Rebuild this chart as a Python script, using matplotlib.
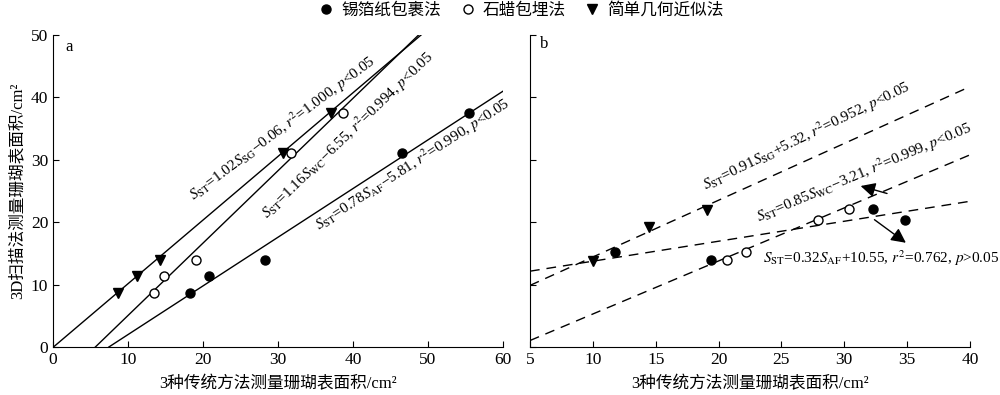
import numpy as np
import matplotlib
matplotlib.use('Agg')
import matplotlib.pyplot as plt
from matplotlib.lines import Line2D

plt.rcParams['font.family'] = ['Liberation Serif', 'Noto Sans CJK SC']
plt.rcParams['mathtext.fontset'] = 'stix'

# panel a data
af_x_a = [18.3, 20.8, 28.3, 46.5, 55.4]
af_y_a = [8.7, 11.3, 13.9, 31.1, 37.5]
wc_x_a = [13.4, 14.8, 19.1, 31.7, 38.7]
wc_y_a = [8.7, 11.3, 13.9, 31.1, 37.5]
sg_x_a = [8.6, 11.2, 14.2, 30.7, 37.1]
sg_y_a = [8.7, 11.3, 14.0, 31.1, 37.5]

# panel b data
af_x_b = [11.8, 19.4, 32.3, 34.8]
af_y_b = [15.2, 13.9, 22.1, 20.3]
wc_x_b = [20.7, 22.2, 27.9, 30.4]
wc_y_b = [13.9, 15.2, 20.3, 22.1]
sg_x_b = [10.0, 14.5, 19.1]
sg_y_b = [13.8, 19.2, 22.0]

# fits: (slope, intercept)
fit_a = {'SG': (1.02, -0.06), 'WC': (1.16, -6.55), 'AF': (0.78, -5.81)}
fit_b = {'SG': (0.91, 5.32), 'WC': (0.85, -3.21), 'AF': (0.32, 10.55)}

fig = plt.figure(figsize=(10, 3.95), dpi=100)
ax1 = fig.add_axes([0.053, 0.1215, 0.45, 0.79])
ax2 = fig.add_axes([0.53, 0.1215, 0.44, 0.79])

ms = 6.5


def style_axis(ax):
    for s in ['top', 'right']:
        ax.spines[s].set_visible(False)
    ax.tick_params(direction='in', labelsize=12.5, length=4)


def plot_points(ax, afx, afy, wcx, wcy, sgx, sgy):
    ax.plot(afx, afy, 'o', color='black', ms=ms, zorder=3)
    ax.plot(wcx, wcy, 'o', mfc='white', mec='black', ms=ms, mew=1, zorder=3)
    ax.plot(sgx, sgy, 'v', color='black', ms=ms, zorder=3)


# panel a
for k, (m, b) in fit_a.items():
    x0 = max(0, -b / m)
    x1 = min(60, (50 - b) / m)
    xs = np.array([x0, x1])
    ax1.plot(xs, m * xs + b, color='black', lw=1)
plot_points(ax1, af_x_a, af_y_a, wc_x_a, wc_y_a, sg_x_a, sg_y_a)
ax1.set_xlim(0, 60)
ax1.set_ylim(0, 50)
ax1.set_xticks(range(0, 61, 10))
ax1.set_yticks(range(0, 51, 10))
style_axis(ax1)
ax1.set_xlabel('3种传统方法测量珊瑚表面积/cm²', fontsize=12, labelpad=6)
ax1.set_ylabel('3D扫描法测量珊瑚表面积/cm²', fontsize=12, labelpad=4)
ax1.text(1.6, 48, 'a', fontsize=12, va='center')

fs = 11
ax1.text(30.6, 35.0, r'$S_{\rm ST}$=1.02$S_{\rm SG}$−0.06, $r^2$=1.000, $p$<0.05',
         rotation=37, ha='center', va='center', fontsize=fs, rotation_mode='anchor')
ax1.text(39.3, 34.0, r'$S_{\rm ST}$=1.16$S_{\rm WC}$−6.55, $r^2$=0.994, $p$<0.05',
         rotation=44, ha='center', va='center', fontsize=fs, rotation_mode='anchor')
ax1.text(48.0, 29.3, r'$S_{\rm ST}$=0.78$S_{\rm AF}$−5.81, $r^2$=0.990, $p$<0.05',
         rotation=33, ha='center', va='center', fontsize=fs, rotation_mode='anchor')

# panel b
xs = np.array([5, 40])
for k, (m, b) in fit_b.items():
    ax2.plot(xs, m * xs + b, color='black', lw=1, ls=(0, (7, 5)))
plot_points(ax2, af_x_b, af_y_b, wc_x_b, wc_y_b, sg_x_b, sg_y_b)
ax2.set_xlim(5, 40)
ax2.set_ylim(0, 50)
ax2.set_xticks(range(5, 41, 5))
ax2.set_yticks(range(0, 51, 10))
ax2.set_yticklabels([])
style_axis(ax2)
ax2.set_xlabel('3种传统方法测量珊瑚表面积/cm²', fontsize=12, labelpad=6)
ax2.text(5.8, 48.5, 'b', fontsize=12, va='center')

ax2.text(27.0, 33.8, r'$S_{\rm ST}$=0.91$S_{\rm SG}$+5.32, $r^2$=0.952, $p$<0.05',
         rotation=26, ha='center', va='center', fontsize=fs, rotation_mode='anchor')
ax2.text(31.6, 27.9, r'$S_{\rm ST}$=0.85$S_{\rm WC}$−3.21, $r^2$=0.999, $p$<0.05',
         rotation=23, ha='center', va='center', fontsize=fs, rotation_mode='anchor')
ax2.text(23.5, 14.3, r'$S_{\rm ST}$=0.32$S_{\rm AF}$+10.55, $r^2$=0.762, $p$>0.05',
         ha='left', va='center', fontsize=fs)
arrow = dict(arrowstyle='-|>', color='black', lw=1, mutation_scale=22,
             shrinkA=0, shrinkB=0)
ax2.annotate('', xy=(31.3, 25.8), xytext=(33.4, 24.6), arrowprops=arrow)
ax2.annotate('', xy=(34.9, 16.7), xytext=(32.4, 20.4), arrowprops=arrow)

handles = [
    Line2D([], [], marker='o', ls='none', color='black', ms=ms),
    Line2D([], [], marker='o', ls='none', mfc='white', mec='black', ms=ms),
    Line2D([], [], marker='v', ls='none', color='black', ms=ms),
]
fig.legend(handles, ['锡箔纸包裹法', '石蜡包埋法', '简单几何近似法'],
           loc='center', bbox_to_anchor=(0.52, 0.972), ncol=3, frameon=False,
           fontsize=12, handletextpad=0.3, columnspacing=1.0, handlelength=1.2)

fig.savefig('out.png', dpi=100)
